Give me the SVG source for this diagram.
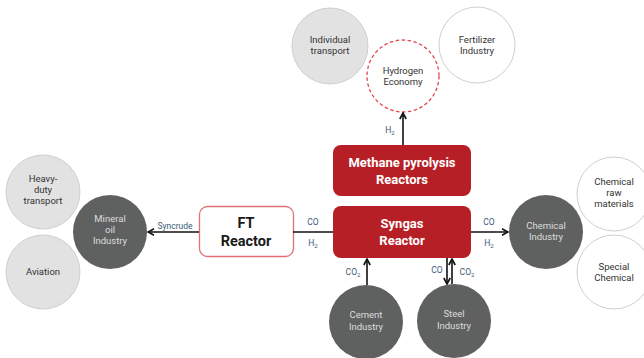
<svg xmlns="http://www.w3.org/2000/svg" width="644" height="358" viewBox="0 0 644 358">
<style>
.lt{fill:#e2e2e2;stroke:#cfcfcf;stroke-width:1}
.wh{fill:#ffffff;stroke:#cfcfcf;stroke-width:1}
.dk{fill:#5f6161;stroke:none}
.rb{fill:#b71f26;stroke:none}
.t{font-family:Roboto,"Liberation Sans",sans-serif;font-size:9.5px;text-anchor:middle;fill:#333}
.td{font-family:Roboto,"Liberation Sans",sans-serif;font-size:9.5px;text-anchor:middle;fill:#dcdcdc}
.tb{font-family:Roboto,"Liberation Sans",sans-serif;font-size:13px;font-weight:bold;text-anchor:middle;fill:#ffffff}
.tf{font-family:Roboto,"Liberation Sans",sans-serif;font-size:14.5px;font-weight:bold;text-anchor:middle;fill:#1a1a1a}
.lb{font-family:Roboto,"Liberation Sans",sans-serif;font-size:8.5px;text-anchor:middle;fill:#3d5a7a}
.ln{stroke:#111;stroke-width:1.6;fill:none}
</style>
<defs>
<marker id="ah" markerWidth="8" markerHeight="8" refX="7" refY="4" orient="auto" markerUnits="userSpaceOnUse">
<path d="M1,0.8 L7,4 L1,7.2" fill="none" stroke="#111" stroke-width="1.6"/>
</marker>
</defs>
<rect width="644" height="358" fill="#ffffff"/>
<g id="individual-transport"><circle class="lt" cx="330" cy="46" r="38"/><text class="t" x="330" y="43">Individual</text><text class="t" x="330" y="54">transport</text></g>
<g id="fertilizer-industry"><circle class="wh" cx="477" cy="45" r="38"/><text class="t" x="477" y="43">Fertilizer</text><text class="t" x="477" y="54">Industry</text></g>
<g id="hydrogen-economy"><circle cx="403" cy="76" r="36" fill="#fff" stroke="#e0474c" stroke-width="1.3" stroke-dasharray="3.5,2.5"/><text class="t" x="403" y="74">Hydrogen</text><text class="t" x="403" y="85">Economy</text></g>
<g id="methane-pyrolysis"><rect class="rb" x="333" y="145" width="138" height="51" rx="8"/><text class="tb" x="402" y="167">Methane pyrolysis</text><text class="tb" x="402" y="184">Reactors</text></g>
<g id="syngas-reactor"><rect class="rb" x="333" y="206" width="138" height="52" rx="8"/><text class="tb" x="402" y="228">Syngas</text><text class="tb" x="402" y="245">Reactor</text></g>
<g id="ft-reactor"><rect x="199.5" y="206.5" width="94" height="50" rx="8" fill="#fff" stroke="#e07073" stroke-width="1.3"/><text class="tf" x="246" y="228">FT</text><text class="tf" x="246" y="246">Reactor</text></g>
<g id="mineral-oil"><circle class="dk" cx="110" cy="232" r="37"/><text class="td" x="110" y="222">Mineral</text><text class="td" x="110" y="233">oil</text><text class="td" x="110" y="244">Industry</text></g>
<g id="heavy-duty"><circle class="lt" cx="43" cy="192" r="37"/><text class="t" x="43" y="182">Heavy-</text><text class="t" x="43" y="193">duty</text><text class="t" x="43" y="204">transport</text></g>
<g id="aviation"><circle class="lt" cx="43" cy="272" r="37"/><text class="t" x="43" y="275">Aviation</text></g>
<g id="chemical-industry"><circle class="dk" cx="546" cy="232" r="37"/><text class="td" x="546" y="229">Chemical</text><text class="td" x="546" y="240">Industry</text></g>
<g id="chemical-raw"><circle class="wh" cx="614" cy="194" r="37"/><text class="t" x="614" y="185">Chemical</text><text class="t" x="614" y="196">raw</text><text class="t" x="614" y="207">materials</text></g>
<g id="special-chemical"><circle class="wh" cx="614" cy="272" r="37"/><text class="t" x="614" y="270">Special</text><text class="t" x="614" y="281">Chemical</text></g>
<g id="cement-industry"><circle class="dk" cx="366" cy="322" r="37"/><text class="td" x="366" y="318">Cement</text><text class="td" x="366" y="330">Industry</text></g>
<g id="steel-industry"><circle class="dk" cx="454" cy="321" r="37"/><text class="td" x="454" y="317">Steel</text><text class="td" x="454" y="329">Industry</text></g>
<g id="connectors">
<line class="ln" x1="403" y1="145" x2="403" y2="113" marker-end="url(#ah)"/>
<text class="lb" x="390" y="133">H<tspan font-size="6" dy="1.5">2</tspan></text>
<line class="ln" x1="333" y1="232" x2="293" y2="232"/>
<text class="lb" x="313" y="225">CO</text>
<text class="lb" x="313" y="246">H<tspan font-size="6" dy="1.5">2</tspan></text>
<line class="ln" x1="199" y1="232" x2="148" y2="232" marker-end="url(#ah)"/>
<text class="lb" x="175" y="229">Syncrude</text>
<line class="ln" x1="471" y1="232" x2="508" y2="232" marker-end="url(#ah)"/>
<text class="lb" x="489" y="225">CO</text>
<text class="lb" x="489" y="246">H<tspan font-size="6" dy="1.5">2</tspan></text>
<line class="ln" x1="367" y1="285" x2="367" y2="259" marker-end="url(#ah)"/>
<text class="lb" x="353" y="275">CO<tspan font-size="6" dy="1.5">2</tspan></text>
<line class="ln" x1="447" y1="258" x2="447" y2="284" marker-end="url(#ah)"/>
<line class="ln" x1="452" y1="284" x2="452" y2="259" marker-end="url(#ah)"/>
<text class="lb" x="437" y="273">CO</text>
<text class="lb" x="467" y="275">CO<tspan font-size="6" dy="1.5">2</tspan></text>
</g>
</svg>
